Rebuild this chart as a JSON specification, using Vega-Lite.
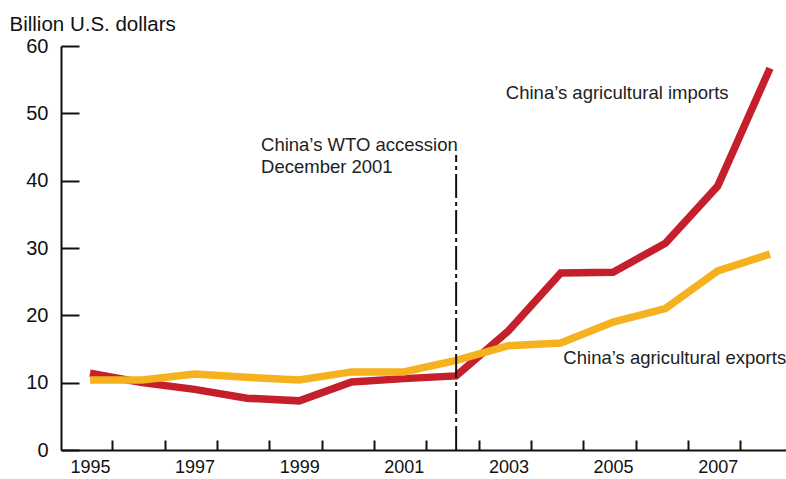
{
  "$schema": "https://vega.github.io/schema/vega-lite/v6.json",
  "autosize": {"type": "none"},
  "padding": {"left": 61, "top": 46, "right": 0, "bottom": 29},
  "width": 725,
  "height": 404,
  "background": "white",
  "config": {
    "font": "Liberation Sans",
    "view": {"stroke": null},
    "axis": {"grid": false, "domainColor": "#111", "tickColor": "#111", "labelColor": "#111", "titleColor": "#111", "domainWidth": 2, "tickWidth": 2}
  },
  "datasets": {
    "trade": [
      {"year": 1995, "series": "Imports", "value": 11.4},
      {"year": 1996, "series": "Imports", "value": 10.0},
      {"year": 1997, "series": "Imports", "value": 9.0},
      {"year": 1998, "series": "Imports", "value": 7.7},
      {"year": 1999, "series": "Imports", "value": 7.3},
      {"year": 2000, "series": "Imports", "value": 10.1},
      {"year": 2001, "series": "Imports", "value": 10.6},
      {"year": 2002, "series": "Imports", "value": 11.0},
      {"year": 2003, "series": "Imports", "value": 17.7},
      {"year": 2004, "series": "Imports", "value": 26.3},
      {"year": 2005, "series": "Imports", "value": 26.4},
      {"year": 2006, "series": "Imports", "value": 30.7},
      {"year": 2007, "series": "Imports", "value": 39.2},
      {"year": 2008, "series": "Imports", "value": 56.7},
      {"year": 1995, "series": "Exports", "value": 10.4},
      {"year": 1996, "series": "Exports", "value": 10.4},
      {"year": 1997, "series": "Exports", "value": 11.3},
      {"year": 1998, "series": "Exports", "value": 10.8},
      {"year": 1999, "series": "Exports", "value": 10.4},
      {"year": 2000, "series": "Exports", "value": 11.6},
      {"year": 2001, "series": "Exports", "value": 11.6},
      {"year": 2002, "series": "Exports", "value": 13.3},
      {"year": 2003, "series": "Exports", "value": 15.5},
      {"year": 2004, "series": "Exports", "value": 15.9},
      {"year": 2005, "series": "Exports", "value": 19.0},
      {"year": 2006, "series": "Exports", "value": 21.0},
      {"year": 2007, "series": "Exports", "value": 26.6},
      {"year": 2008, "series": "Exports", "value": 29.1}
    ],
    "wto": [{"event": "China’s WTO accession, December 2001"}]
  },
  "resolve": {"axis": {"x": "independent", "y": "independent"}},
  "layer": [
    {
      "data": {"name": "trade"},
      "mark": {"type": "line", "strokeWidth": 7.5, "strokeCap": "butt", "strokeJoin": "miter"},
      "encoding": {
        "x": {
          "field": "year", "type": "quantitative",
          "scale": {"domain": [1994.446, 2008.306], "nice": false, "zero": false},
          "axis": {"orient": "bottom", "values": [1995, 1997, 1999, 2001, 2003, 2005, 2007], "format": "d", "ticks": false, "domain": true, "labelFontSize": 18, "labelPadding": 8, "labelFlush": false, "labelOverlap": false, "title": null}
        },
        "y": {
          "field": "value", "type": "quantitative",
          "scale": {"domain": [0, 60], "nice": false, "zero": true},
          "axis": {"orient": "left", "values": [0, 10, 20, 30, 40, 50, 60], "ticks": false, "domain": true, "labelFontSize": 20, "labelPadding": 13, "labelFlush": false, "labelOverlap": false,
            "title": "Billion U.S. dollars", "titleAngle": 0, "titleAlign": "left", "titleBaseline": "alphabetic", "titleX": -52, "titleY": -15.5, "titleFontSize": 20.5, "titleFontWeight": "normal"}
        },
        "color": {
          "field": "series", "type": "nominal",
          "scale": {"domain": ["Imports", "Exports"], "range": ["#c41f2b", "#f6b11f"]},
          "legend": null
        }
      }
    },
    {
      "data": {"name": "wto"},
      "mark": {"type": "rule", "strokeWidth": 2, "color": "#111", "strokeDash": [24, 4, 4, 4]},
      "encoding": {
        "x": {"datum": 2002, "type": "quantitative",
          "axis": {"orient": "bottom", "values": [1995.43, 1996.43, 1997.43, 1998.43, 1999.43, 2000.43, 2001.43, 2002.43, 2003.43, 2004.43, 2005.43, 2006.43, 2007.43], "labels": false, "domain": false, "ticks": true, "tickSize": -10, "title": null}},
        "y": {"datum": 0, "type": "quantitative",
          "axis": {"orient": "left", "values": [0, 10, 20, 30, 40, 50, 60], "labels": false, "domain": false, "ticks": true, "tickSize": -18, "title": null}},
        "y2": {"datum": 43.8}
      }
    },
    {
      "data": {"name": "wto"},
      "mark": {"type": "text", "align": "left", "baseline": "alphabetic", "fontSize": 18.5, "fontWeight": "normal", "fill": "#222"},
      "encoding": {
        "x": {"datum": 1998.27, "type": "quantitative", "axis": null},
        "y": {"datum": 44.45, "type": "quantitative", "axis": null},
        "text": {"value": "China’s WTO accession"}
      }
    },
    {
      "data": {"name": "wto"},
      "mark": {"type": "text", "align": "left", "baseline": "alphabetic", "fontSize": 18.5, "fontWeight": "normal", "fill": "#222"},
      "encoding": {
        "x": {"datum": 1998.27, "type": "quantitative", "axis": null},
        "y": {"datum": 41.1, "type": "quantitative", "axis": null},
        "text": {"value": "December 2001"}
      }
    },
    {
      "data": {"name": "wto"},
      "mark": {"type": "text", "align": "left", "baseline": "alphabetic", "fontSize": 18.5, "fontWeight": "normal", "fill": "#222"},
      "encoding": {
        "x": {"datum": 2002.95, "type": "quantitative", "axis": null},
        "y": {"datum": 52.2, "type": "quantitative", "axis": null},
        "text": {"value": "China’s agricultural imports"}
      }
    },
    {
      "data": {"name": "wto"},
      "mark": {"type": "text", "align": "left", "baseline": "alphabetic", "fontSize": 18.5, "fontWeight": "normal", "fill": "#222"},
      "encoding": {
        "x": {"datum": 2004.05, "type": "quantitative", "axis": null},
        "y": {"datum": 12.77, "type": "quantitative", "axis": null},
        "text": {"value": "China’s agricultural exports"}
      }
    }
  ]
}
